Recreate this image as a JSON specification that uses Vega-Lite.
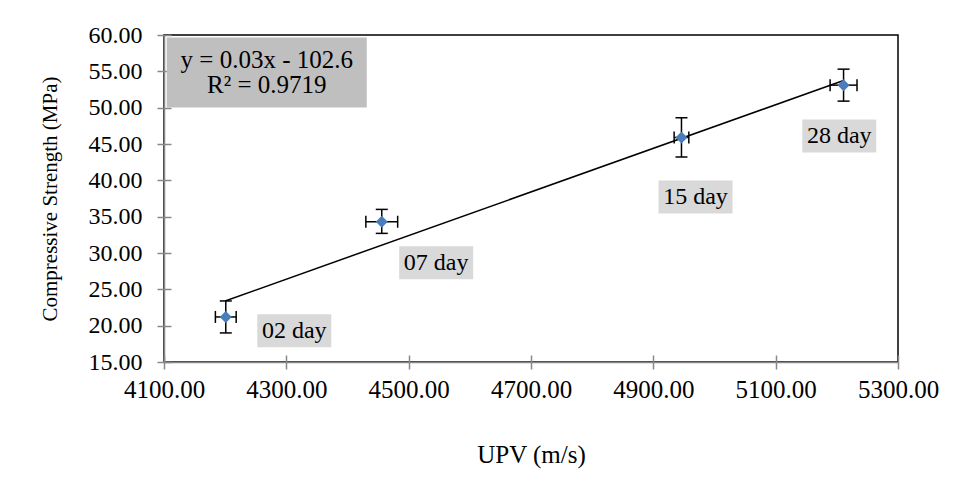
{
  "$schema": "https://vega.github.io/schema/vega-lite/v6.json",
  "width": 734,
  "height": 327,
  "autosize": "none",
  "padding": {"left": 164, "top": 35, "right": 64, "bottom": 115},
  "background": "white",
  "config": {
    "font": "Liberation Serif",
    "view": {"stroke": "black", "strokeWidth": 1.5},
    "axis": {"grid": false, "labelColor": "black", "titleColor": "black", "labelFont": "Liberation Serif", "titleFont": "Liberation Serif", "titleFontWeight": "normal", "labelFlush": false, "labelOverlap": false, "labelBound": false}
  },
  "datasets": {
    "pts": [
      {"day": "02 day", "upv": 4201, "cs": 21.2, "upv_lo": 4184, "upv_hi": 4218, "cs_lo": 19.0, "cs_hi": 23.4, "lx": 4313, "ly": 19.3},
      {"day": "07 day", "upv": 4456, "cs": 34.3, "upv_lo": 4430, "upv_hi": 4482, "cs_lo": 32.7, "cs_hi": 36.0, "lx": 4545, "ly": 28.65},
      {"day": "15 day", "upv": 4946, "cs": 45.9, "upv_lo": 4934, "upv_hi": 4958, "cs_lo": 43.2, "cs_hi": 48.6, "lx": 4969, "ly": 37.7},
      {"day": "28 day", "upv": 5211, "cs": 53.1, "upv_lo": 5189, "upv_hi": 5233, "cs_lo": 50.9, "cs_hi": 55.3, "lx": 5204, "ly": 46.1}
    ],
    "trend": [
      {"upv": 4200, "cs": 23.4},
      {"upv": 5211, "cs": 53.73}
    ],
    "eq": [
      {"upv": 4268, "cs": 54.85, "text": "y = 0.03x - 102.6\nR² = 0.9719"}
    ]
  },
  "resolve": {"axis": {"x": "independent", "y": "independent"}},
  "layer": [
    {
      "data": {"name": "trend"},
      "mark": {"type": "line", "color": "black", "strokeWidth": 1.5},
      "encoding": {
        "x": {"field": "upv", "type": "quantitative", "scale": {"domain": [4100, 5300], "nice": false, "zero": false},
          "axis": {"orient": "bottom", "values": [4100, 4300, 4500, 4700, 4900, 5100, 5300], "offset": -7, "tickSize": 7, "tickWidth": 1.5, "tickColor": "#888888", "labels": false, "domain": false, "title": null, "zindex": 0}},
        "y": {"field": "cs", "type": "quantitative", "scale": {"domain": [15, 60], "nice": false, "zero": false},
          "axis": {"orient": "left", "values": [15, 20, 25, 30, 35, 40, 45, 50, 55, 60], "offset": -7, "tickSize": 7, "tickWidth": 1.5, "tickColor": "#888888", "labels": false, "domain": false, "title": null, "zindex": 0}}
      }
    },
    {
      "data": {"name": "eq"},
      "mark": {"type": "point", "shape": "M-1,-0.35H1V0.35H-1Z", "size": 40000, "filled": true, "color": "#bfbfbf", "opacity": 1},
      "encoding": {
        "x": {"field": "upv", "type": "quantitative",
          "axis": {"orient": "bottom", "values": [4100, 4300, 4500, 4700, 4900, 5100, 5300], "format": ".2f", "tickSize": 7, "tickWidth": 1.5, "tickColor": "#888888", "domainColor": "#888888", "domainWidth": 1.5, "labelFontSize": 25, "labelPadding": 8, "title": "UPV (m/s)", "titleFontSize": 25, "titlePadding": 40, "zindex": 1}},
        "y": {"field": "cs", "type": "quantitative",
          "axis": {"orient": "left", "values": [15, 20, 25, 30, 35, 40, 45, 50, 55, 60], "format": ".2f", "tickSize": 7, "tickWidth": 1.5, "tickColor": "#888888", "domainColor": "#888888", "domainWidth": 1.5, "labelFontSize": 24, "labelPadding": 15, "title": "Compressive Strength (MPa)", "titleFontSize": 21, "titlePadding": 28, "zindex": 1}}
      }
    },
    {
      "data": {"name": "eq"},
      "mark": {"type": "text", "font": "Liberation Serif", "fontSize": 25, "lineBreak": "\n", "lineHeight": 25, "align": "center", "baseline": "middle", "color": "black", "dy": -12},
      "encoding": {
        "x": {"field": "upv", "type": "quantitative", "axis": null},
        "y": {"field": "cs", "type": "quantitative", "axis": null},
        "text": {"field": "text"}
      }
    },
    {
      "data": {"name": "pts"},
      "mark": {"type": "rule", "color": "black", "strokeWidth": 1.5},
      "encoding": {
        "x": {"field": "upv", "type": "quantitative", "axis": null},
        "y": {"field": "cs_lo", "type": "quantitative", "axis": null},
        "y2": {"field": "cs_hi"}
      }
    },
    {
      "data": {"name": "pts"},
      "mark": {"type": "rule", "color": "black", "strokeWidth": 1.5},
      "encoding": {
        "x": {"field": "upv_lo", "type": "quantitative", "axis": null},
        "x2": {"field": "upv_hi"},
        "y": {"field": "cs", "type": "quantitative", "axis": null}
      }
    },
    {
      "data": {"name": "pts"},
      "mark": {"type": "tick", "orient": "horizontal", "color": "black", "size": 12, "thickness": 1.5, "opacity": 1},
      "encoding": {
        "x": {"field": "upv", "type": "quantitative", "axis": null},
        "y": {"field": "cs_lo", "type": "quantitative", "axis": null}
      }
    },
    {
      "data": {"name": "pts"},
      "mark": {"type": "tick", "orient": "horizontal", "color": "black", "size": 12, "thickness": 1.5, "opacity": 1},
      "encoding": {
        "x": {"field": "upv", "type": "quantitative", "axis": null},
        "y": {"field": "cs_hi", "type": "quantitative", "axis": null}
      }
    },
    {
      "data": {"name": "pts"},
      "mark": {"type": "tick", "orient": "vertical", "color": "black", "size": 12, "thickness": 1.5, "opacity": 1},
      "encoding": {
        "x": {"field": "upv_lo", "type": "quantitative", "axis": null},
        "y": {"field": "cs", "type": "quantitative", "axis": null}
      }
    },
    {
      "data": {"name": "pts"},
      "mark": {"type": "tick", "orient": "vertical", "color": "black", "size": 12, "thickness": 1.5, "opacity": 1},
      "encoding": {
        "x": {"field": "upv_hi", "type": "quantitative", "axis": null},
        "y": {"field": "cs", "type": "quantitative", "axis": null}
      }
    },
    {
      "data": {"name": "pts"},
      "mark": {"type": "point", "shape": "diamond", "size": 144, "filled": true, "color": "#4a7ebb", "opacity": 1},
      "encoding": {
        "x": {"field": "upv", "type": "quantitative", "axis": null},
        "y": {"field": "cs", "type": "quantitative", "axis": null}
      }
    },
    {
      "data": {"name": "pts"},
      "mark": {"type": "point", "shape": "M-1,-0.446H1V0.446H-1Z", "size": 5476, "filled": true, "color": "#d9d9d9", "opacity": 1},
      "encoding": {
        "x": {"field": "lx", "type": "quantitative", "axis": null},
        "y": {"field": "ly", "type": "quantitative", "axis": null}
      }
    },
    {
      "data": {"name": "pts"},
      "mark": {"type": "text", "font": "Liberation Serif", "fontSize": 24, "align": "center", "baseline": "middle", "color": "black"},
      "encoding": {
        "x": {"field": "lx", "type": "quantitative", "axis": null},
        "y": {"field": "ly", "type": "quantitative", "axis": null},
        "text": {"field": "day"}
      }
    }
  ]
}
